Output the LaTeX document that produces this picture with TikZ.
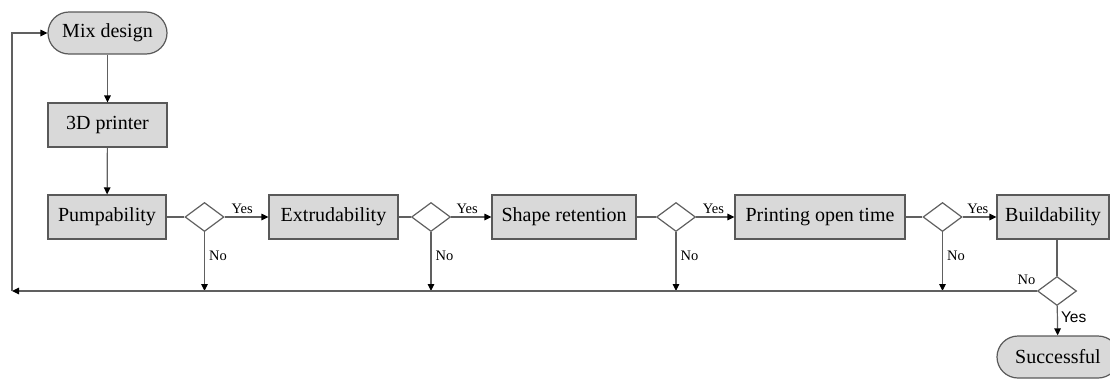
\documentclass[tikz,border=0pt]{standalone}
\usepackage{fontspec}
\setmainfont{Liberation Serif}
\newfontfamily\sansf{Liberation Sans}
\usetikzlibrary{shapes.geometric,arrows.meta}
\definecolor{fillc}{HTML}{D9D9D9}
\definecolor{edgec}{HTML}{595959}
\definecolor{linec}{HTML}{606060}
\begin{document}
\begin{tikzpicture}[x=1pt,y=-1pt,
  box/.style={draw=edgec, fill=fillc, line width=1.2pt, minimum height=44pt, inner sep=0pt, font=\fontsize{20}{23}\selectfont},
  term/.style={box, rounded corners=21pt, minimum height=42pt},
  dec/.style={diamond, draw=linec, fill=white, line width=1.2pt, minimum width=39pt, minimum height=29pt, inner sep=0pt, aspect=1.34},
  conn/.style={draw=linec, line width=1.2pt},
  arr/.style={conn, -{Triangle[length=7pt,width=6.5pt,color=black]}},
  lab/.style={font=\fontsize{14.5}{16}\selectfont, inner sep=0pt}
]
\useasboundingbox (0,0) rectangle (1110,378);
% nodes
\node[term, minimum width=119pt] (mix) at (107.5,33) {Mix design};
\node[box, minimum width=119pt] (prn) at (107.5,125) {3D printer};
\node[box, minimum width=118pt] (pump) at (107,217) {Pumpability};
\node[dec] (d1) at (204.5,217) {};
\node[box, minimum width=129pt] (ext) at (333.5,217) {Extrudability};
\node[dec] (d2) at (431,217) {};
\node[box, minimum width=144pt] (shp) at (564,217) {Shape retention};
\node[dec] (d3) at (676,217) {};
\node[box, minimum width=170pt] (pot) at (820,217) {Printing open time};
\node[dec] (d4) at (942.5,217) {};
\node[box, minimum width=112pt] (bld) at (1053,217) {Buildability};
\node[dec] (d5) at (1057,291) {};
\node[term, minimum width=122pt] (suc) at (1058,357) {Successful};
\coordinate (corner) at (12,291);
% bottom feedback targets
\coordinate (b1) at (d1 |- corner);
\coordinate (b2) at (d2 |- corner);
\coordinate (b3) at (d3 |- corner);
\coordinate (b4) at (d4 |- corner);
% connectors
\draw[arr] (mix) -- (prn);
\draw[arr] (prn) -- (pump);
\draw[conn] (pump) -- (d1);
\draw[arr] (d1) -- node[lab, pos=0.4, above=3pt]{Yes} (ext);
\draw[conn] (ext) -- (d2);
\draw[arr] (d2) -- node[lab, pos=0.4, above=3pt]{Yes} (shp);
\draw[conn] (shp) -- (d3);
\draw[arr] (d3) -- node[lab, pos=0.45, above=3pt]{Yes} (pot);
\draw[conn] (pot) -- (d4);
\draw[arr] (d4) -- node[lab, pos=0.45, above=3pt]{Yes} (bld);
\draw[arr] (d1) -- node[lab, pos=0.4, anchor=west, xshift=4pt]{No} (b1);
\draw[arr] (d2) -- node[lab, pos=0.4, anchor=west, xshift=4pt]{No} (b2);
\draw[arr] (d3) -- node[lab, pos=0.4, anchor=west, xshift=4pt]{No} (b3);
\draw[arr] (d4) -- node[lab, pos=0.4, anchor=west, xshift=4pt]{No} (b4);
\draw[conn] (bld.south -| d5) -- (d5);
\draw[arr] (d5.west) -- node[lab, pos=0, anchor=south east, yshift=6pt, xshift=-1pt]{No} (corner);
\draw[arr] (corner) |- (mix);
\draw[arr] (d5) -- node[lab, pos=0.4, anchor=west, xshift=3pt, font=\sansf\fontsize{15.5}{17}\selectfont]{Yes} (suc);
\end{tikzpicture}
\end{document}
